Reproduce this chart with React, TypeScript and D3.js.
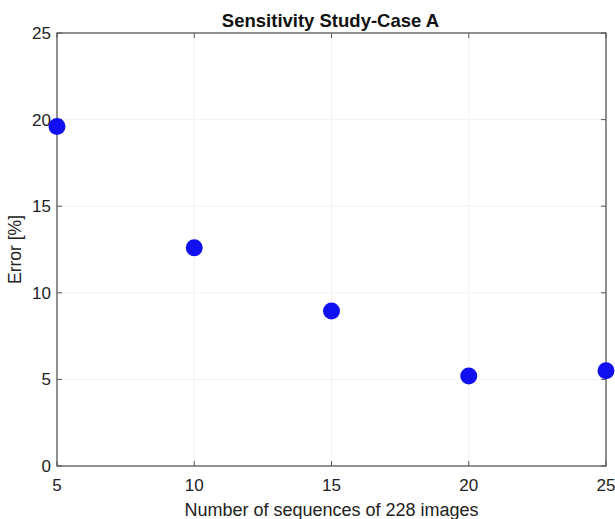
import React from "react";
import * as d3 from "d3";

const xValues = [5, 10, 15, 20, 25];
const errorValues = [19.6, 12.6, 8.95, 5.2, 5.5];
const xTicks = [5, 10, 15, 20, 25];
const yTicks = [0, 5, 10, 15, 20, 25];
const title = "Sensitivity Study-Case A";
const xLabel = "Number of sequences of 228 images";
const yLabel = "Error [%]";

export default function App() {
  const W = 615, H = 519;
  const m = { left: 57, right: 9, top: 33, bottom: 53 };
  const x = d3.scaleLinear().domain([5, 25]).range([m.left, W - m.right]);
  const y = d3.scaleLinear().domain([0, 25]).range([H - m.bottom, m.top]);
  const font = "'Liberation Sans', Arial, sans-serif";
  const axisColor = "#555";
  const tl = 5;
  return (
    <svg width={W} height={H} style={{ position: "absolute", left: 0, top: 0, background: "#fff" }} fontFamily={font}>
      <rect x={0} y={0} width={W} height={H} fill="#fff" />
      {xTicks.slice(1, -1).map((t) => (
        <line key={"gx" + t} x1={x(t)} x2={x(t)} y1={y(0)} y2={y(25)} stroke="#f2f2f6" strokeWidth={1} />
      ))}
      {yTicks.slice(1, -1).map((t) => (
        <line key={"gy" + t} x1={x(5)} x2={x(25)} y1={y(t)} y2={y(t)} stroke="#f2f2f6" strokeWidth={1} />
      ))}
      <rect x={x(5)} y={y(25)} width={x(25) - x(5)} height={y(0) - y(25)} fill="none" stroke={axisColor} strokeWidth={1.3} />
      {xTicks.map((t) => (
        <g key={"xt" + t}>
          <line x1={x(t)} x2={x(t)} y1={y(0)} y2={y(0) - tl} stroke={axisColor} />
          <line x1={x(t)} x2={x(t)} y1={y(25)} y2={y(25) + tl} stroke={axisColor} />
          <text x={x(t)} y={y(0) + 25} textAnchor="middle" fontSize={17} fill="#222">{t}</text>
        </g>
      ))}
      {yTicks.map((t) => (
        <g key={"yt" + t}>
          <line x1={x(5)} x2={x(5) + tl} y1={y(t)} y2={y(t)} stroke={axisColor} />
          <line x1={x(25)} x2={x(25) - tl} y1={y(t)} y2={y(t)} stroke={axisColor} />
          <text x={x(5) - 6} y={y(t) + 6} textAnchor="end" fontSize={17} fill="#222">{t}</text>
        </g>
      ))}
      {xValues.map((v, i) => (
        <circle key={"p" + i} cx={x(v)} cy={y(errorValues[i])} r={8.5} fill="#1010f0" />
      ))}
      <text x={(x(5) + x(25)) / 2 - 1} y={27} textAnchor="middle" fontSize={18.5} fontWeight="bold" fill="#111">{title}</text>
      <text x={(x(5) + x(25)) / 2} y={516} textAnchor="middle" fontSize={18} fill="#222">{xLabel}</text>
      <text transform={`translate(21, ${(y(0) + y(25)) / 2}) rotate(-90)`} textAnchor="middle" fontSize={17.5} fill="#222">{yLabel}</text>
    </svg>
  );
}
